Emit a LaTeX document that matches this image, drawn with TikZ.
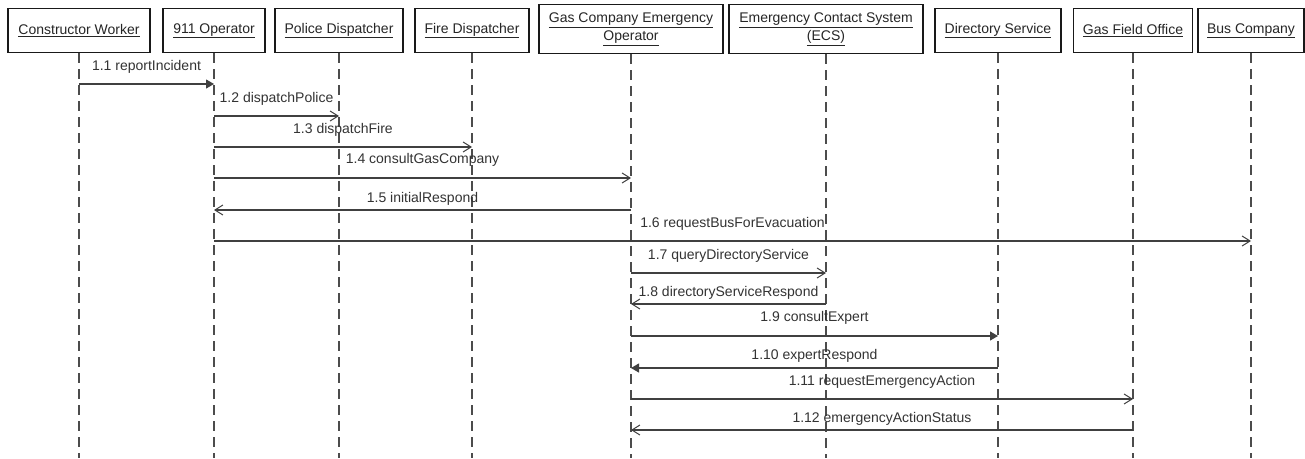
\documentclass[tikz,border=0pt]{standalone}
\usepackage{fontspec}
\setmainfont{Liberation Sans}
\usetikzlibrary{arrows.meta}
\begin{document}
\begin{tikzpicture}[x=1pt,y=-1pt,
  actor/.style={draw=black!90, line width=1.2pt, fill=white, anchor=north,
    minimum height=44pt, inner sep=0pt, text=black!85, align=center,
    font=\fontsize{14}{18}\selectfont},
  actortwo/.style={actor, minimum height=49pt},
  life/.style={dash pattern=on 10pt off 6pt, line width=1.2pt, draw=black!70},
  msg/.style={line width=1.1pt, draw=black!75, -{Straight Barb[length=8pt,width=10pt,line width=1pt]}},
  syncmsg/.style={line width=1.1pt, draw=black!75, -{Triangle[length=8pt,width=9pt]}},
  lbl/.style={anchor=base, inner sep=0pt, text=black!80, font=\fontsize{14}{16}\selectfont}]
\useasboundingbox[fill=white] (0,0) rectangle (1305,458);

% actors
\node[actor, minimum width=142pt] (cw) at (79,8) {\underline{Constructor Worker}};
\node[actor, minimum width=102pt] (op) at (214,8) {\underline{911 Operator}};
\node[actor, minimum width=128pt] (pd) at (339,8) {\underline{Police Dispatcher}};
\node[actor, minimum width=114pt] (fd) at (472,8) {\underline{Fire Dispatcher}};
\node[actortwo, minimum width=184pt] (go) at (631,4) {\underline{Gas Company Emergency}\\\underline{Operator}};
\node[actortwo, minimum width=194pt] (ecs) at (826,4) {\underline{Emergency Contact System}\\\underline{(ECS)}};
\node[actor, minimum width=126pt] (ds) at (998,8) {\underline{Directory Service}};
\node[actor, minimum width=119pt] (gfo) at (1133,8) {\underline{Gas Field Office}};
\node[actor, minimum width=106pt] (bc) at (1251,8) {\underline{Bus Company}};

% lifelines
\foreach \a in {cw,op,pd,fd,go,ecs,ds,gfo,bc}{
  \coordinate (\a end) at (\a.south |- 0,458);
  \draw[life] (\a.south) -- (\a end);
}

% messages
\draw[syncmsg] (cw |- 0,84) -- (op |- 0,84);
\node[lbl] (t1) at (146.5,70) {1.1 reportIncident};

\draw[msg] (op |- 0,116) -- (pd |- 0,116);
\node[lbl] (t2) at (276.5,102) {1.2 dispatchPolice};

\draw[msg] (op |- 0,147) -- (fd |- 0,147);
\node[lbl] (t3) at (343,133) {1.3 dispatchFire};

\draw[msg] (op |- 0,178) -- (go |- 0,178);
\node[lbl] (t4) at (422.5,163) {1.4 consultGasCompany};

\draw[msg] (go |- 0,210) -- (op |- 0,210);
\node[lbl] (t5) at (422.5,202) {1.5 initialRespond};

\draw[msg] (op |- 0,241) -- (bc |- 0,241);
\node[lbl] (t6) at (732.5,227) {1.6 requestBusForEvacuation};

\draw[msg] (go |- 0,273) -- (ecs |- 0,273);
\node[lbl] (t7) at (728.5,259) {1.7 queryDirectoryService};

\draw[msg] (ecs |- 0,304) -- (go |- 0,304);
\node[lbl] (t8) at (728.5,296) {1.8 directoryServiceRespond};

\draw[syncmsg] (go |- 0,336) -- (ds |- 0,336);
\node[lbl] (t9) at (814.5,321) {1.9 consultExpert};

\draw[syncmsg] (ds |- 0,368) -- (go |- 0,368);
\node[lbl] (t10) at (814.5,359) {1.10 expertRespond};

\draw[msg] (go |- 0,399) -- (gfo |- 0,399);
\node[lbl] (t11) at (882,385) {1.11 requestEmergencyAction};

\draw[msg] (gfo |- 0,430) -- (go |- 0,430);
\node[lbl] (t12) at (882,422) {1.12 emergencyActionStatus};
\end{tikzpicture}
\end{document}
